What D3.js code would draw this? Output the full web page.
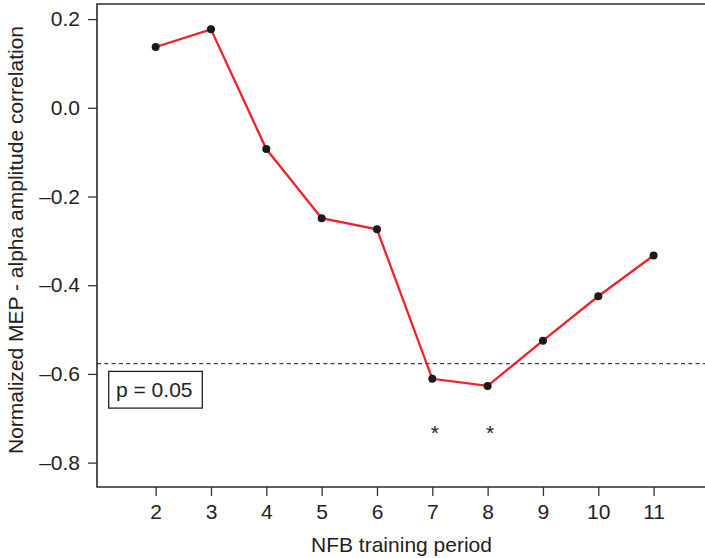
<!DOCTYPE html>
<html>
<head>
<meta charset="utf-8">
<script src="https://cdn.jsdelivr.net/npm/d3@7/dist/d3.min.js"></script>
<style>
  html, body { margin: 0; padding: 0; background: #fff; }
  svg { display: block; }
  text { font-family: "Liberation Sans", Arial, Helvetica, sans-serif; fill: #222; }
</style>
</head>
<body>
<svg id="chart" width="705" height="558"></svg>
<script>
// ---- data ----
const periods = [2, 3, 4, 5, 6, 7, 8, 9, 10, 11];
const correlations = [0.137, 0.177, -0.093, -0.249, -0.274, -0.611, -0.627, -0.525, -0.425, -0.333];
const xTicks = [2, 3, 4, 5, 6, 7, 8, 9, 10, 11];
const yTicks = [-0.8, -0.6, -0.4, -0.2, 0.0, 0.2];
const threshold = -0.577;
const thresholdLabel = "p = 0.05";
const significantPeriods = [7, 8];
const starLevel = -0.75;
const xTitle = "NFB training period";
const yTitle = "Normalized MEP - alpha amplitude correlation";

// ---- layout ----
const W = 705, H = 558;
const mLeft = 97, mTop = 4, mBottom = 487;
const svg = d3.select("#chart");

const x = d3.scaleLinear().domain([0.94, 12]).range([mLeft, mLeft + 11.06 * 55.33]);
const y = d3.scaleLinear().domain([-0.855, 0.234]).range([mBottom, mTop]);

const axisColor = "#333";
const fmt = v => {
  const s = d3.format(".1f")(Math.abs(v));
  return (v < -1e-9 ? "\u2013" : "") + s;
};

// x axis
const gx = svg.append("g").attr("transform", `translate(0,${mBottom})`)
  .call(d3.axisBottom(x).tickValues(xTicks).tickSizeOuter(0).tickSize(9).tickPadding(8).tickFormat(d3.format("d")));
gx.select(".domain").remove();
gx.selectAll(".tick line").attr("stroke", axisColor).attr("stroke-width", 1.3);
gx.selectAll(".tick text").attr("font-size", 21).attr("fill", "#222")
  .attr("font-family", "'Liberation Sans', Arial, sans-serif");

// y axis
const gy = svg.append("g").attr("transform", `translate(${mLeft},0)`)
  .call(d3.axisLeft(y).tickValues(yTicks).tickSizeOuter(0).tickSize(9).tickPadding(8).tickFormat(fmt));
gy.select(".domain").remove();
gy.selectAll(".tick line").attr("stroke", axisColor).attr("stroke-width", 1.3);
gy.selectAll(".tick text").attr("font-size", 21).attr("fill", "#222")
  .attr("font-family", "'Liberation Sans', Arial, sans-serif");

// frame lines (left, bottom, top)
const frame = svg.append("g").attr("fill", "none").attr("stroke-width", 1.6);
frame.append("path")
  .attr("d", `M${W},${mTop}H${mLeft}V${mBottom}H${W}`)
  .attr("stroke", "#2a2a2a");

// threshold dashed line
svg.append("line")
  .attr("x1", mLeft).attr("x2", W)
  .attr("y1", y(threshold)).attr("y2", y(threshold))
  .attr("stroke", "#111").attr("stroke-width", 1)
  .attr("stroke-dasharray", "4,3.3");

// threshold label box
const box = svg.append("g");
box.append("rect")
  .attr("x", 108.7).attr("y", y(threshold) + 7.7)
  .attr("width", 93.6).attr("height", 36.7)
  .attr("fill", "#fff").attr("stroke", "#222").attr("stroke-width", 1.3);
box.append("text")
  .attr("x", 116).attr("y", y(threshold) + 33)
  .attr("font-size", 21)
  .text(thresholdLabel);

// line
const pts = periods.map((p, i) => [p, correlations[i]]);
svg.append("path")
  .datum(pts)
  .attr("fill", "none")
  .attr("stroke", "#ee2228")
  .attr("stroke-width", 2.3)
  .attr("d", d3.line().x(d => x(d[0])).y(d => y(d[1])));

// points
svg.append("g").selectAll("circle")
  .data(pts).join("circle")
  .attr("cx", d => x(d[0])).attr("cy", d => y(d[1]))
  .attr("r", 4)
  .attr("fill", "#1a1a1a");

// significance stars
svg.append("g").selectAll("text")
  .data(significantPeriods).join("text")
  .attr("x", d => x(d) + 2.5).attr("y", y(starLevel))
  .attr("text-anchor", "middle")
  .attr("font-size", 21)
  .text("*");

// axis titles
svg.append("text")
  .attr("x", (mLeft + 705) / 2 + 0.5).attr("y", 552)
  .attr("text-anchor", "middle")
  .attr("font-size", 21)
  .text(xTitle);

svg.append("text")
  .attr("transform", `translate(22.5,240) rotate(-90)`)
  .attr("text-anchor", "middle")
  .attr("font-size", 21)
  .text(yTitle);
</script>
</body>
</html>
